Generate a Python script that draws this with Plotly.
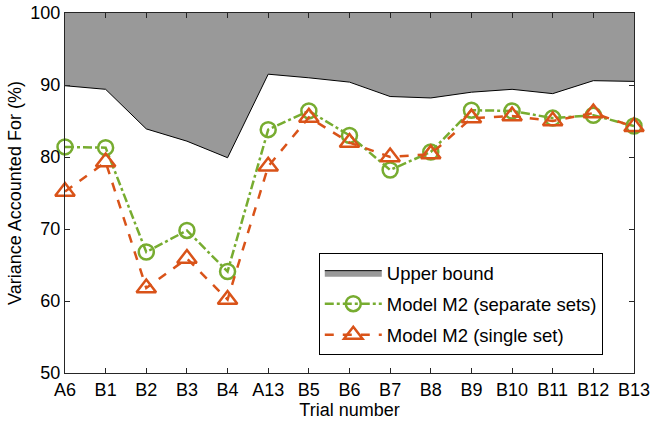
import plotly.graph_objects as go

trials = ["A6", "B1", "B2", "B3", "B4", "A13", "B5", "B6", "B7", "B8", "B9", "B10", "B11", "B12", "B13"]
upper_bound = [89.9, 89.4, 83.9, 82.2, 79.9, 91.5, 91.0, 90.4, 88.4, 88.2, 89.0, 89.4, 88.8, 90.6, 90.5]
separate_sets = [81.4, 81.3, 66.8, 69.8, 64.1, 83.8, 86.4, 83.0, 78.2, 80.7, 86.5, 86.4, 85.4, 85.8, 84.3]
single_set = [75.2, 79.3, 61.8, 65.9, 60.2, 78.7, 85.5, 82.0, 80.0, 80.4, 85.4, 85.7, 85.0, 86.1, 84.2]
top_value = [100] * len(trials)

x = list(range(len(trials)))
green = "#77AC30"
orange = "#D95319"

fig = go.Figure()
fig.add_trace(go.Scatter(x=x, y=top_value, mode="lines", line=dict(width=0, color="rgba(0,0,0,0)"),
                         showlegend=False, hoverinfo="skip"))
fig.add_trace(go.Scatter(x=x, y=upper_bound, mode="lines", fill="tonexty", fillcolor="#999999",
                         line=dict(color="black", width=1), name="Upper bound", showlegend=False))
# legend-only entry for the shaded region
fig.add_trace(go.Scatter(x=[None], y=[None], mode="lines", fill="toself", fillcolor="#999999",
                         line=dict(color="black", width=1), name="Upper bound", legendgroup="g1"))
fig.add_trace(go.Scatter(x=x, y=separate_sets, mode="lines+markers", name="Model M2 (separate sets)",
                         line=dict(color=green, width=2.5, dash="dashdot"),
                         marker=dict(symbol="circle-open", size=15, color=green, line=dict(width=2.5, color=green)),
                         cliponaxis=False, legendgroup="g2"))
fig.add_trace(go.Scatter(x=x, y=single_set, mode="lines+markers", name="Model M2 (single set)",
                         line=dict(color=orange, width=2.5, dash="dash"),
                         marker=dict(symbol="triangle-up-open", size=17, color=orange, line=dict(width=2.5, color=orange)),
                         cliponaxis=False, legendgroup="g3"))

axis_font = dict(family="Liberation Sans, Arial", size=18, color="black")
fig.update_layout(
    width=650, height=427,
    margin=dict(l=65, r=16, t=13, b=54, autoexpand=False),
    paper_bgcolor="white", plot_bgcolor="white",
    font=dict(family="Liberation Sans, Arial", size=18, color="black"),
    xaxis=dict(range=[0, len(trials) - 1], tickmode="array", tickvals=x, ticktext=trials,
               ticks="inside", ticklen=5, tickcolor="#262626", showline=True, linecolor="#262626",
               linewidth=1, mirror="ticks", showgrid=False, zeroline=False, tickfont=axis_font,
               automargin=False, ticklabeloverflow="allow",
               title=dict(text="Trial number", font=dict(size=18), standoff=2)),
    yaxis=dict(range=[50, 100], tickvals=[50, 60, 70, 80, 90, 100],
               ticks="inside", ticklen=5, tickcolor="#262626", showline=True, linecolor="#262626",
               linewidth=1, mirror="ticks", showgrid=False, zeroline=False, tickfont=axis_font,
               automargin=False, ticklabeloverflow="allow",
               title=dict(text="Variance Accounted For (%)", font=dict(size=18), standoff=4)),
    legend=dict(x=0.446, y=0.333, xanchor="left", yanchor="top", bordercolor="black", borderwidth=1,
                bgcolor="white", font=dict(size=18.5), tracegroupgap=4, itemwidth=57,
                traceorder="grouped"),
)

fig.write_html("out.html", config={"displayModeBar": False},
               post_script="document.body.style.margin='0';document.body.style.overflow='hidden';")
